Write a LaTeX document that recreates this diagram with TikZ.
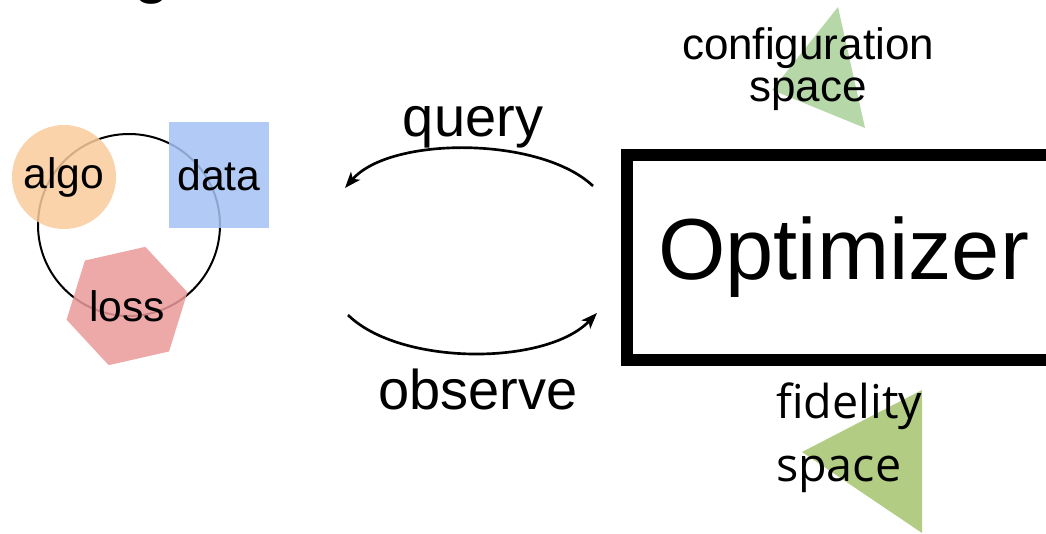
\documentclass[tikz,border=0pt]{standalone}
\usepackage{fontspec}
\setmainfont{Liberation Sans}
\newfontfamily\opensans{Open Sans}
\usetikzlibrary{arrows.meta,shapes.geometric}

\definecolor{algocol}{HTML}{F9CB9C}
\definecolor{datacol}{HTML}{A4C2F4}
\definecolor{losscol}{HTML}{EA9999}
\definecolor{confcol}{HTML}{B6D7A8}
\definecolor{fidcol}{HTML}{B3CC84}

\tikzset{
  part/.style={fill opacity=0.85, text opacity=1, inner sep=0pt},
  flow/.style={line width=2pt, -{Stealth[length=12pt,width=9pt,inset=3pt]}},
  space/.style={fill, draw=none},
}

\begin{document}
\begin{tikzpicture}[x=0.75pt, y=-0.75pt]
		%%%%% START %%%%%
		\useasboundingbox (0, 0) rectangle (1046, 534);
		
		\node[anchor=base, font=\fontsize{50}{50}\selectfont] (title) at (152, -9) {g};
		
		\draw[line width=1.5pt] (129, 225) circle (91);
		
		\node[part, circle, fill=algocol, minimum size=78pt, font=\fontsize{32}{32}\selectfont] (algo) at (64, 177) {algo};
		\node[part, rectangle, fill=datacol, minimum width=75pt, minimum height=79.5pt, font=\fontsize{32}{32}\selectfont] (data) at (219, 175) {data};
		\node[part, regular polygon, regular polygon sides=6, shape border rotate=12.8, fill=losscol, minimum size=90pt, font=\fontsize{32}{32}\selectfont] (loss) at (127, 306) {loss};
		
		\draw[space, confcol] (838, 7) -- (865, 128) -- (772, 90) -- cycle;
		\node[font=\fontsize{33}{32}\selectfont, align=center] (conf) at (808, 69) {configuration\\space};
		
		\draw[space, fidcol] (922, 390) -- (922, 533) -- (802, 452) -- cycle;
		\node[font=\opensans\fontsize{35}{47}\selectfont, align=left] (fid) at (849, 438) {fidelity\\space};
		
		\node[draw, line width=9pt, minimum width=324.75pt, minimum height=153.4pt, inner sep=0pt, font=\fontsize{65}{65}\selectfont] (opt) at (843.5, 257.25) {Optimizer};
		
		\coordinate (qs) at (593, 186);
		\coordinate (qe) at (345, 188);
		\coordinate (os) at (348, 315);
		\coordinate (oe) at (597, 313);
		
		\draw[flow] (qs) .. controls (540, 136) and (390, 136) .. (qe);
		\draw[flow] (os) .. controls (400, 366) and (546, 366) .. (oe);
		
		\node[font=\fontsize{42}{42}\selectfont] (query) at (473, 127) {query};
		\node[font=\fontsize{42}{42}\selectfont] (observe) at (478, 389) {observe};
		
		%%%%% END %%%%%
	\end{tikzpicture}
\end{document}
